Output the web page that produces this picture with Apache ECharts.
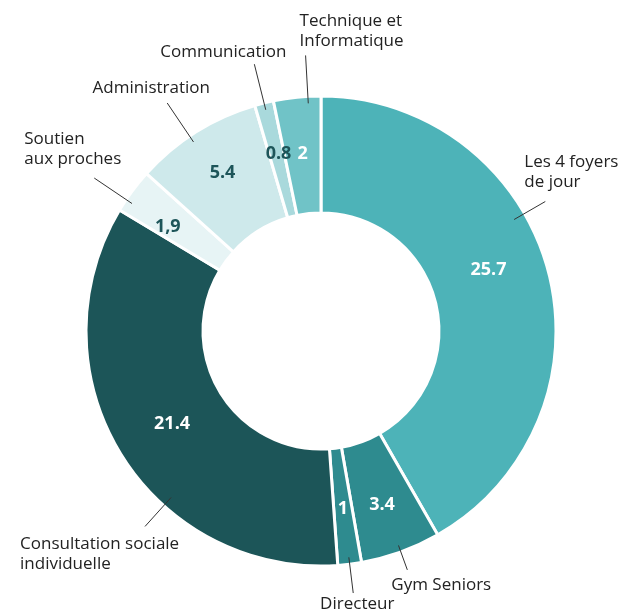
<!DOCTYPE html>
<html><head><meta charset="utf-8">
<script src="https://cdn.jsdelivr.net/npm/echarts@6/dist/echarts.min.js"></script>
<style>html,body{margin:0;padding:0;background:#fff}#c{width:618px;height:616px}</style>
</head><body><div id="c"></div>
<script>
// ---- data ----
const categories = ['Les 4 foyers\nde jour','Gym Seniors','Directeur','Consultation sociale\nindividuelle','Soutien\naux proches','Administration','Communication','Technique et\nInformatique'];
const values = [25.7, 3.4, 1, 21.4, 1.9, 5.4, 0.8, 2];
const valueLabels = ['25.7','3.4','1','21.4','1,9','5.4','0.8','2'];

// ---- styles ----
const colors = ['#4db3b8','#2e8b8f','#2e8b8f','#1c5558','#e7f4f5','#cee9eb','#a9d9dc','#70c3c7'];
const valueColors = ['#fff','#fff','#fff','#fff','#1d5559','#1d5559','#1d5559','#fff'];
const valueOffsets = [[-6,-15],[0,5],[0,0],[4,-1],[-9,3],[-3,-6],[1,-3],[0,1]];
const CENTER = [321, 331];
const R_IN = 118, R_OUT = 235;
const nameLayout = [
  {angle:60, r0:223, r1:259, align:'left', va:'bottom', dx:-21, dy:-9},
  {r1:254, align:'left', va:'top', dx:-16, dy:5},
  {r1:264, align:'center', va:'top', dx:4, dy:1},
  {angle:222, r0:224, r1:263, align:'left', va:'top', dx:-125, dy:8},
  {angle:304, r1:273.5, align:'left', va:'bottom', dx:-70, dy:-8.5},
  {angle:326, r1:275, align:'center', va:'bottom', dx:-16, dy:-4.5},
  {r1:275, align:'center', va:'bottom', dx:-31, dy:-2},
  {angle:356.8, r1:276, align:'left', va:'bottom', dx:-6, dy:-4.5}
];
const FONT = "'Open Sans', 'Noto Sans', sans-serif";

const total = values.reduce((a,b)=>a+b,0);
function midAngle(i){
  let s = 0; for (let k=0;k<i;k++) s += values[k];
  return (s + values[i]/2) / total * 2 * Math.PI;
}

const chart = echarts.init(document.getElementById('c'), null, {renderer:'canvas'});
chart.setOption({
  animation: false,
  backgroundColor: '#fff',
  series: [
    {
      type: 'pie',
      z: 2,
      center: CENTER,
      radius: [R_IN, R_OUT],
      startAngle: 90,
      clockwise: true,
      avoidLabelOverlap: false,
      silent: true,
      itemStyle: { borderColor: '#fff', borderWidth: 3 },
      label: {
        show: true, position: 'inside',
        fontFamily: FONT, fontSize: 18, fontWeight: 'bold',
        formatter: p => valueLabels[p.dataIndex]
      },
      labelLine: { show: false },
      labelLayout: function(p){
        const o = valueOffsets[p.dataIndex];
        const r = p.labelRect;
        return { x: r.x + r.width/2 + o[0], y: r.y + r.height/2 + o[1], align: 'center', verticalAlign: 'middle' };
      },
      data: values.map((v,i)=>({
        value: v, name: categories[i],
        itemStyle: { color: colors[i] },
        label: { color: valueColors[i] }
      }))
    },
    {
      type: 'pie',
      z: 5,
      center: CENTER,
      radius: [R_IN, R_OUT],
      startAngle: 90,
      clockwise: true,
      avoidLabelOverlap: false,
      silent: true,
      itemStyle: { color: 'rgba(0,0,0,0)', borderWidth: 0 },
      label: {
        show: true, position: 'outside',
        fontFamily: FONT, fontSize: 17, color: '#222', lineHeight: 20,
        formatter: p => categories[p.dataIndex]
      },
      labelLine: { show: true, length: 10, length2: 0, lineStyle: { color: '#333', width: 1 } },
      labelLayout: function(p){
        const L = nameLayout[p.dataIndex];
        const pts = p.labelLinePoints;
        let th;
        if (L.angle != null) th = L.angle * Math.PI / 180;
        else if (pts && pts.length) th = Math.atan2(pts[0][0]-CENTER[0], -(pts[0][1]-CENTER[1]));
        else th = midAngle(p.dataIndex);
        const r0 = L.r0 || 228;
        const s = [CENTER[0] + r0*Math.sin(th), CENTER[1] - r0*Math.cos(th)];
        const e = [CENTER[0] + L.r1*Math.sin(th), CENTER[1] - L.r1*Math.cos(th)];
        return { x: e[0]+L.dx, y: e[1]+L.dy, align: L.align, verticalAlign: L.va, labelLinePoints: [s, e] };
      },
      data: values.map((v,i)=>({ value: v, name: categories[i] }))
    }
  ]
});
</script>
</body></html>
